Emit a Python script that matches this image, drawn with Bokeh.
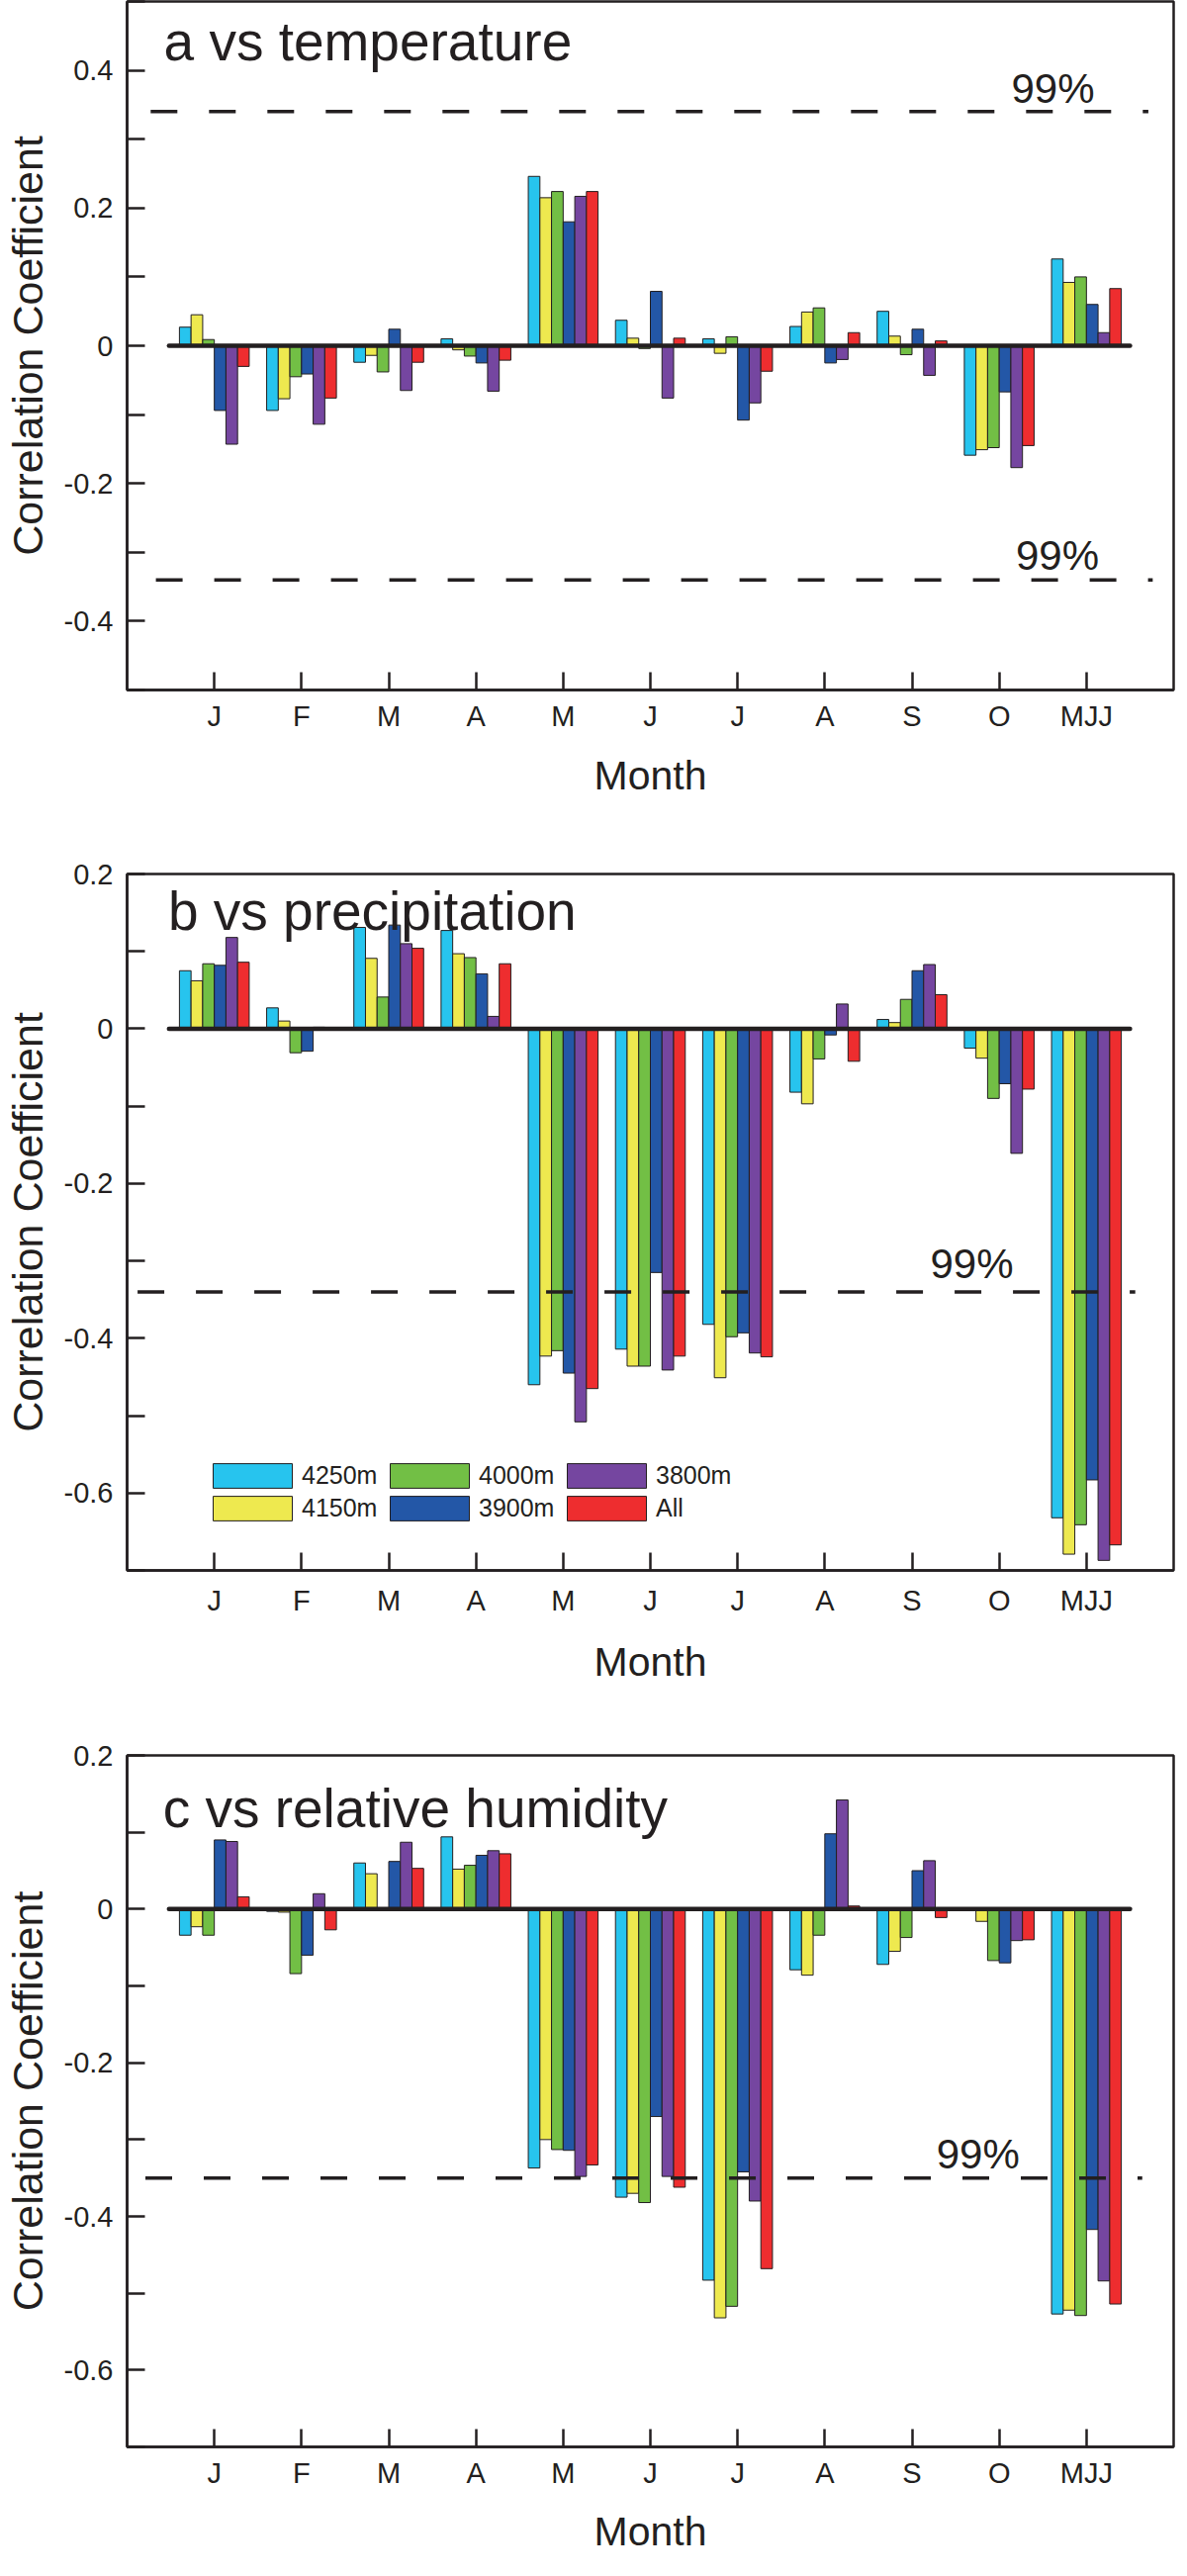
from bokeh.plotting import figure
from bokeh.layouts import column
from bokeh.models import (ColumnDataSource, FixedTicker, CustomJSTickFormatter, Label,
                          Range1d, Legend, LegendItem)
from bokeh.transform import dodge
from bokeh.embed import file_html
from bokeh.resources import INLINE

months = ["J", "F", "M", "A", "M", "J", "J", "A", "S", "O", "MJJ"]
stations = ["4250m", "4150m", "4000m", "3900m", "3800m", "All"]
colors = ["#27C4EE", "#EEE94F", "#72BF45", "#2357A7", "#7546A0", "#EE2D2F"]

# a vs temperature
temp_4250 = [0.027, -0.094, -0.024, 0.010, 0.246, 0.037, 0.010, 0.028, 0.050, -0.159, 0.126]
temp_4150 = [0.045, -0.077, -0.014, -0.006, 0.215, 0.011, -0.011, 0.049, 0.014, -0.151, 0.092]
temp_4000 = [0.009, -0.045, -0.038, -0.015, 0.224, -0.004, 0.013, 0.055, -0.013, -0.148, 0.100]
temp_3900 = [-0.094, -0.041, 0.024, -0.025, 0.180, 0.079, -0.108, -0.025, 0.024, -0.067, 0.060]
temp_3800 = [-0.143, -0.114, -0.065, -0.066, 0.217, -0.076, -0.083, -0.020, -0.043, -0.177, 0.019]
temp_all = [-0.030, -0.076, -0.024, -0.021, 0.224, 0.011, -0.037, 0.019, 0.007, -0.145, 0.083]

# b vs precipitation
prec_4250 = [0.075, 0.027, 0.131, 0.127, -0.460, -0.414, -0.382, -0.082, 0.012, -0.025, -0.632]
prec_4150 = [0.062, 0.010, 0.091, 0.097, -0.423, -0.436, -0.451, -0.097, 0.008, -0.038, -0.679]
prec_4000 = [0.084, -0.031, 0.041, 0.092, -0.416, -0.436, -0.398, -0.039, 0.038, -0.090, -0.641]
prec_3900 = [0.082, -0.029, 0.134, 0.071, -0.445, -0.315, -0.393, -0.008, 0.075, -0.071, -0.583]
prec_3800 = [0.118, 0.002, 0.110, 0.016, -0.508, -0.441, -0.419, 0.032, 0.083, -0.161, -0.687]
prec_all = [0.086, -0.002, 0.104, 0.084, -0.465, -0.423, -0.424, -0.042, 0.044, -0.078, -0.667]

# c vs relative humidity
rh_4250 = [-0.034, -0.003, 0.060, 0.094, -0.337, -0.375, -0.483, -0.079, -0.072, -0.002, -0.527]
rh_4150 = [-0.023, -0.004, 0.046, 0.052, -0.300, -0.370, -0.532, -0.086, -0.055, -0.016, -0.522]
rh_4000 = [-0.034, -0.084, 0.000, 0.057, -0.313, -0.382, -0.517, -0.034, -0.037, -0.067, -0.529]
rh_3900 = [0.090, -0.060, 0.062, 0.070, -0.314, -0.270, -0.342, 0.098, 0.050, -0.070, -0.417]
rh_3800 = [0.088, 0.020, 0.087, 0.076, -0.348, -0.348, -0.380, 0.142, 0.063, -0.041, -0.484]
rh_all = [0.016, -0.027, 0.053, 0.072, -0.333, -0.362, -0.468, 0.004, -0.011, -0.040, -0.514]

# 99% significance levels
sig_temp = [0.34, -0.34]
sig_prec = [-0.34]
sig_rh = [-0.35]

yticks_a = [-0.4, -0.2, 0, 0.2, 0.4]
yminor_a = [-0.5, -0.3, -0.1, 0.1, 0.3, 0.5]
yticks_bc = [-0.6, -0.4, -0.2, 0, 0.2]
yminor_bc = [-0.7, -0.5, -0.3, -0.1, 0.1]

FONT = "Liberation Sans"
INK = "#231F20"
bar_w = 0.8 / len(stations)


def make_panel(series, yr, ticks, minor, title, title_xy, sig, sig_x, pct_xy,
               height, top, bottom, left, right, tick_gap=10, label_gap=18, legend=False):
    p = figure(width=1190, height=height, x_range=Range1d(-1, 11), y_range=Range1d(*yr),
               output_backend="svg", toolbar_location=None, tools="", title=None,
               min_border_top=top, min_border_bottom=bottom,
               min_border_left=left, min_border_right=right)
    p.xgrid.visible = False
    p.ygrid.visible = False
    p.outline_line_color = INK
    p.outline_line_width = 2.5
    p.background_fill_color = None
    p.border_fill_color = None

    x = list(range(len(months)))
    bars = []
    for k, (vals, c) in enumerate(zip(series, colors)):
        src = ColumnDataSource(dict(x=x, top=vals))
        bars.append(p.vbar(x=dodge("x", (k - 2.5) * bar_w), top="top", bottom=0,
                           width=bar_w, fill_color=c, line_color=INK, line_width=1,
                           source=src))

    # zero line
    p.segment(x0=-0.52, y0=0, x1=len(months) - 0.5, y1=0,
              line_color=INK, line_width=4.5, line_cap="round")

    for thr, (x0, x1) in zip(sig, sig_x):
        p.segment(x0=x0, y0=thr, x1=x1, y1=thr, line_color=INK,
                  line_width=3.5, line_dash="27 32")
    for (tx, ty) in pct_xy:
        p.add_layout(Label(x=tx, y=ty, text="99%", text_font=FONT,
                           text_font_size="42px", text_color=INK,
                           text_baseline="alphabetic"))

    p.add_layout(Label(x=title_xy[0], y=title_xy[1], text=title, text_font=FONT,
                       text_font_size="55px", text_color=INK,
                       text_baseline="alphabetic"))

    xa = p.xaxis[0]
    xa.ticker = FixedTicker(ticks=x)
    xa.major_label_overrides = {i: m for i, m in enumerate(months)}
    xa.major_tick_in = 18
    xa.major_tick_out = 0
    xa.minor_tick_line_color = None
    xa.major_tick_line_width = 2.5
    xa.major_tick_line_color = INK
    xa.axis_line_width = 2.5
    xa.axis_line_color = INK
    xa.major_label_text_font = FONT
    xa.major_label_text_font_size = "29px"
    xa.major_label_text_color = INK
    xa.major_label_standoff = tick_gap
    xa.axis_label = "Month"
    xa.axis_label_text_font = FONT
    xa.axis_label_text_font_size = "41px"
    xa.axis_label_text_font_style = "normal"
    xa.axis_label_text_color = INK
    xa.axis_label_standoff = label_gap

    ya = p.yaxis[0]
    ya.ticker = FixedTicker(ticks=ticks, minor_ticks=minor)
    ya.formatter = CustomJSTickFormatter(code="return tick == 0 ? '0' : tick.toFixed(1);")
    ya.major_tick_in = 18
    ya.major_tick_out = 0
    ya.minor_tick_in = 18
    ya.minor_tick_out = 0
    ya.major_tick_line_width = 2.5
    ya.minor_tick_line_width = 2.5
    ya.major_tick_line_color = INK
    ya.minor_tick_line_color = INK
    ya.axis_line_width = 2.5
    ya.axis_line_color = INK
    ya.major_label_text_font = FONT
    ya.major_label_text_font_size = "29px"
    ya.major_label_text_color = INK
    ya.major_label_standoff = 14
    ya.axis_label = "Correlation Coefficient"
    ya.axis_label_text_font = FONT
    ya.axis_label_text_font_size = "43px"
    ya.axis_label_text_font_style = "normal"
    ya.axis_label_text_color = INK
    ya.axis_label_standoff = 10

    if legend:
        # three two-row columns: 4250/4150, 4000/3900, 3800/All
        for col in range(3):
            items = [LegendItem(label=stations[i], renderers=[bars[i]])
                     for i in (2 * col, 2 * col + 1)]
            lg = Legend(items=items, location=(77 + 179 * col, 47),
                        orientation="vertical", border_line_color=None,
                        background_fill_alpha=0, padding=0, margin=0, spacing=2,
                        glyph_width=100, glyph_height=31, label_height=31,
                        label_width=60, label_standoff=0, label_text_font=FONT,
                        label_text_font_size="25px", label_text_color=INK)
            p.add_layout(lg)
    return p


pa = make_panel([temp_4250, temp_4150, temp_4000, temp_3900, temp_3800, temp_all],
                (-0.5, 0.5), yticks_a, yminor_a, "a vs temperature", (-0.58, 0.442),
                sig_temp, [(-0.73, 10.71), (-0.67, 10.76)], [(9.14, 0.373), (9.19, -0.304)],
                809, 1, 108, 123, 4, tick_gap=10, label_gap=18)
pb = make_panel([prec_4250, prec_4150, prec_4000, prec_3900, prec_3800, prec_all],
                (-0.7, 0.2), yticks_bc, yminor_bc, "b vs precipitation", (-0.53, 0.152),
                sig_prec, [(-0.88, 10.56)], [(8.21, -0.304)],
                896, 74, 114, 127, 2, tick_gap=14, label_gap=20, legend=True)
pc = make_panel([rh_4250, rh_4150, rh_4000, rh_3900, rh_3800, rh_all],
                (-0.7, 0.2), yticks_bc, yminor_bc, "c vs relative humidity", (-0.59, 0.131),
                sig_rh, [(-0.79, 10.64)], [(8.28, -0.319)],
                879, 69, 106, 124, 3, tick_gap=10, label_gap=17)

layout = column(pa, pb, pc)
open("out.html", "w").write(file_html(layout, INLINE, title="Correlation coefficients"))
